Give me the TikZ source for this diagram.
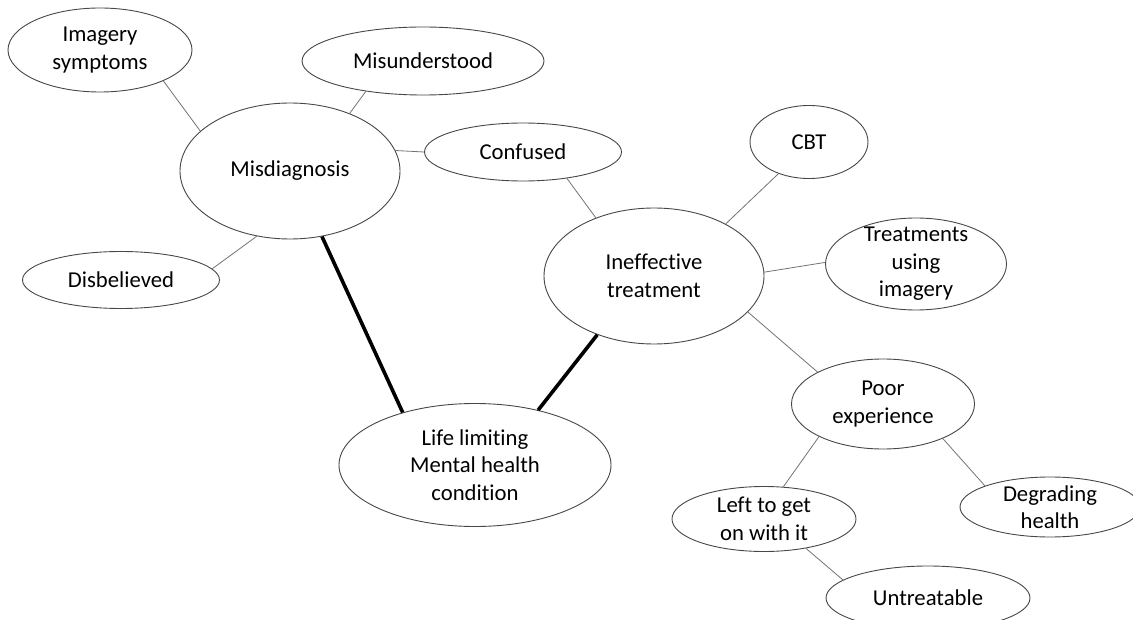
\documentclass[tikz,border=0pt]{standalone}
\usepackage{fontspec}
\setmainfont{Carlito}[Ligatures=NoCommon]
\usepackage{tikz}
\usetikzlibrary{positioning,shapes}
\tikzset{}

\begin{document}
\begin{tikzpicture}[x=1pt,y=-1pt]
            \tikzset{
                mm node/.style={ellipse,draw=black!72,line width=0.9pt,inner sep=-40pt,align=center,
                    font=\fontsize{22.7}{27.5}\selectfont},
                mm edge/.style={draw=black!55,line width=0.8pt},
                mm link/.style={draw=black,line width=3.6pt}
            }
            \clip (0,0) rectangle (1133,620);
            \node[mm node,minimum width=184pt,minimum height=84pt]  (imag)  at (100,50)  {Imagery\\symptoms};
            \node[mm node,minimum width=242pt,minimum height=68pt]  (misu)  at (423,61)  {Misunderstood};
            \node[mm node,minimum width=220pt,minimum height=136pt] (misd)  at (290,171) {Misdiagnosis};
            \node[mm node,minimum width=197pt,minimum height=58pt]  (conf)  at (523,152) {Confused};
            \node[mm node,minimum width=197pt,minimum height=57pt]  (disb)  at (121,280) {Disbelieved};
            \node[mm node,minimum width=118pt,minimum height=73pt]  (cbt)   at (809,142) {CBT};
            \node[mm node,minimum width=220pt,minimum height=136pt] (ineff) at (654,276) {Ineffective\\treatment};
            \node[mm node,minimum width=181pt,minimum height=92pt]  (treat) at (916,264) {Treatments\\using\\imagery};
            \node[mm node,minimum width=183pt,minimum height=90pt]  (poor)  at (883,404) {Poor\\experience};
            \node[mm node,minimum width=272pt,minimum height=123pt] (life)  at (475,465) {Life limiting\\Mental health\\condition};
            \node[mm node,minimum width=184pt,minimum height=65pt]  (left)  at (764,519) {Left to get\\on with it};
            \node[mm node,minimum width=180pt,minimum height=60pt]  (degr)  at (1050,507) {Degrading\\health};
            \node[mm node,minimum width=204pt,minimum height=64pt]  (untr)  at (928,598) {Untreatable};
            \path[mm edge]
                (imag.-26)   edge (misd.156)
                (misu.208)   edge (misd.44)
                (misd.11)    edge (conf.180)
                (misd.243)   edge (disb.7)
                (conf.-31)   edge (ineff.135)
                (cbt.-134)   edge (ineff.36)
                (ineff.2)    edge (treat.179)
                (ineff.-21)  edge (poor.154)
                (poor.207)   edge (left.59)
                (poor.-30)   edge (degr.162)
                (left.-35)   edge (untr.168)
                ;
            \path[mm link]
                (misd.-64)   edge (life.144)
                (ineff.-134) edge (life.41)
                ;
        \end{tikzpicture}
\end{document}
